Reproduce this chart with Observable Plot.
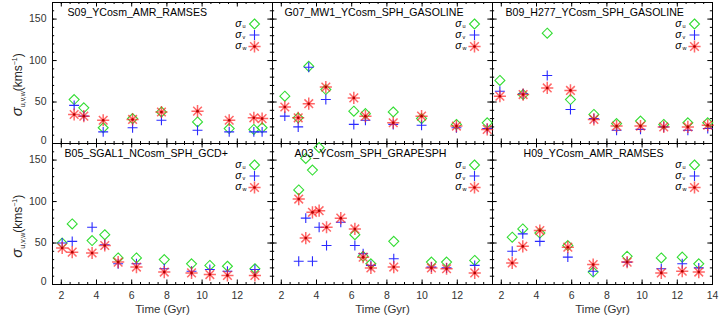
<!DOCTYPE html>
<html><head><meta charset="utf-8">
<script src="https://cdn.jsdelivr.net/npm/d3@7"></script>
<script src="https://cdn.jsdelivr.net/npm/@observablehq/plot@0.6"></script>
<style>
html,body{margin:0;padding:0;background:#fff;}
#chart{width:719px;height:321px;}
</style></head><body><div id="chart"></div>
<script>
// ---- data ----
const panelNames = ["S09_YCosm_AMR_RAMSES","G07_MW1_YCosm_SPH_GASOLINE","B09_H277_YCosm_SPH_GASOLINE",
                    "B05_SGAL1_NCosm_SPH_GCD+","A03_YCosm_SPH_GRAPESPH","H09_YCosm_AMR_RAMSES"];

const s09Time = [2.73, 3.28, 4.38, 6.05, 7.69, 9.74, 11.54, 12.94, 13.41];
const s09U = [53, 43, 19, 30, 38, 26, 18, 17, 19];
const s09V = [46, 33, 14, 19, 28, 16, 14, 14, 14];
const s09W = [35, 33, 28, 29, 38, 39, 28, 31, 30];

const g07Time = [2.20, 2.96, 3.56, 4.53, 6.12, 6.78, 8.36, 9.97, 11.95, 13.7];
const g07U = [57, 31, 93, 65, 39, 36, 38, 30, 23, 25];
const g07V = [33, 20, 92, 53, 23, 28, 23, 22, 19, 18];
const g07W = [44, 31, 48, 68, 55, 33, 25, 33, 21, 17];

const b09Time = [1.92, 3.24, 4.61, 5.93, 7.26, 8.55, 9.91, 11.23, 12.6, 13.73];
const b09U = [76, 59, 133, 53, 35, 24, 27, 23, 25, 25];
const b09V = [63, 60, 82, 41, 30, 16, 17, 20, 16, 18];
const b09W = [57, 59, 67, 64, 29, 21, 21, 20, 20, 22];

const b05Time = [2.05, 2.62, 3.75, 4.47, 5.23, 6.27, 7.85, 9.40, 10.44, 11.44, 13.0];
const b05U = [50, 73, 53, 60, 32, 32, 30, 25, 23, 22, 19];
const b05V = [50, 52, 69, 48, 25, 25, 19, 16, 18, 16, 18];
const b05W = [44, 39, 38, 47, 27, 21, 15, 14, 12, 11, 11];

const a03Time = [2.99, 3.39, 3.77, 4.15, 4.57, 5.38, 6.18, 6.65, 7.09, 8.39, 10.53, 11.39, 12.99];
const a03U = [114, 152, 138, 165, null, null, 60, 34, 25, 52, 27, 27, 29];
const a03V = [28, 80, 28, 69, 47, 75, 47, 37, 23, 31, 21, 20, 23];
const a03W = [103, 56, 87, 89, 69, 80, 67, 33, 20, 21, 20, 19, 14];

const h09Time = [2.62, 3.22, 4.19, 5.78, 7.22, 9.15, 11.09, 12.28, 13.22];
const h09U = [57, 67, 62, 47, 15, 34, 32, 33, 25];
const h09V = [40, 61, 52, 33, 16, 27, 19, 25, 20];
const h09W = [26, 46, 65, 45, 24, 27, 14, 16, 15];

const xTickLabelsInner = [2, 4, 6, 8, 10, 12];
const xTickLabelsLast = [2, 4, 6, 8, 10, 12, 14];
const yTickLabels = [0, 50, 100, 150];
const seriesNames = ["u", "v", "w"];
const xAxisTitle = "Time (Gyr)";

// ---- layout / style ----
const W = 719, H = 321, mL = 51, mR = 7, mT = 1, mB = 37;
const cellW = (W - mL - mR) / 3, cellH = (H - mT - mB) / 2;
const titleDx = [15, 12, 13, 12, 22, 31];
const font = "'Liberation Sans', Arial, Helvetica, sans-serif";
const cU = "#33dd33", cV = "#2a2aff", cW = "#ff2626", cWdot = "#b00000";

const series = [
  {time: s09Time, u: s09U, v: s09V, w: s09W},
  {time: g07Time, u: g07U, v: g07V, w: g07W},
  {time: b09Time, u: b09U, v: b09V, w: b09W},
  {time: b05Time, u: b05U, v: b05V, w: b05W},
  {time: a03Time, u: a03U, v: a03V, w: a03W},
  {time: h09Time, u: h09U, v: h09V, w: h09W}
];
const points = series.flatMap((s, i) => s.time.map((t, j) => ({
  col: i % 3, row: Math.floor(i / 3), t, u: s.u[j], v: s.v[j], w: s.w[j]
})));

const xMajor = [2, 4, 6, 8, 10, 12, 14];
const xMinor = d3.range(1.5, 14.01, 0.5);
const yMajor = [0, 50, 100, 150];
const yMinor = d3.range(0, 171, 10);

function ticksX(values, len) {
  return [
    Plot.ruleX(values, {x: d => d, insetTop: cellH - len, stroke: "black", strokeWidth: 1}),
    Plot.ruleX(values, {x: d => d, insetBottom: cellH - len, stroke: "black", strokeWidth: 1})
  ];
}
function ticksY(values, len) {
  return [
    Plot.ruleY(values, {y: d => d, insetRight: cellW - len, stroke: "black", strokeWidth: 1}),
    Plot.ruleY(values, {y: d => d, insetLeft: cellW - len, stroke: "black", strokeWidth: 1})
  ];
}

const legendRows = [21.5, 32.5, 44];
const legendMarks = [];
seriesNames.forEach((s, k) => {
  const dy = legendRows[k];
  legendMarks.push(Plot.text(["σ"], {frameAnchor: "top-right", dx: -31, dy: dy - 0.5, textAnchor: "end", lineAnchor: "middle", fontSize: 10.5, fontStyle: "italic", fill: "black"}));
  legendMarks.push(Plot.text([s], {frameAnchor: "top-right", dx: -30, dy: dy + 2, textAnchor: "start", lineAnchor: "middle", fontSize: 5.5, fill: "black"}));
});
legendMarks.push(Plot.dot([0], {frameAnchor: "top-right", dx: -18, dy: legendRows[0], symbol: "diamond2", r: 4.5, stroke: cU, strokeWidth: 1.1}));
legendMarks.push(Plot.dot([0], {frameAnchor: "top-right", dx: -18, dy: legendRows[1], symbol: "plus", r: 3.3, stroke: cV, strokeWidth: 1.1}));
legendMarks.push(Plot.dot([0], {frameAnchor: "top-right", dx: -18, dy: legendRows[2], symbol: "plus", r: 4, stroke: cW, strokeOpacity: 0.7}));
legendMarks.push(Plot.dot([0], {frameAnchor: "top-right", dx: -18, dy: legendRows[2], symbol: "times", r: 4, stroke: cW, strokeOpacity: 0.7}));
legendMarks.push(Plot.dot([0], {frameAnchor: "top-right", dx: -18, dy: legendRows[2], r: 1.3, fill: cWdot, stroke: null}));

const titleMarks = panelNames.map((name, i) => Plot.text([name], {
  fx: () => i % 3, fy: () => Math.floor(i / 3), text: d => d,
  frameAnchor: "top-left", dx: titleDx[i], dy: 10, textAnchor: "start", lineAnchor: "middle",
  fontSize: 10.6, fill: "black"
}));

const yLabelData = yTickLabels.flatMap(v => [0, 1].map(row => ({row, v})));
const xLabelData = [0, 1, 2].flatMap(col => (col === 2 ? xTickLabelsLast : xTickLabelsInner).map(x => ({col, x})));

const chart = Plot.plot({
  width: W, height: H,
  marginLeft: mL, marginRight: mR, marginTop: mT, marginBottom: mB,
  fx: {domain: [0, 1, 2], padding: 0, axis: null, label: null},
  fy: {domain: [0, 1], padding: 0, axis: null, label: null},
  x: {domain: [1.5, 14], axis: null},
  y: {domain: [0, 170], axis: null},
  style: {fontFamily: font, background: "white", overflow: "visible"},
  marks: [
    ...ticksX(xMinor, 2.5), ...ticksX(xMajor, 5),
    ...ticksY(yMinor, 2.5), ...ticksY(yMajor, 5),
    Plot.frame({stroke: "black", strokeWidth: 1}),
    Plot.dot(points, {fx: "col", fy: "row", x: "t", y: "u", symbol: "diamond2", r: 4.5, stroke: cU, strokeWidth: 1.1}),
    Plot.dot(points, {fx: "col", fy: "row", x: "t", y: "v", symbol: "plus", r: 3.3, stroke: cV, strokeWidth: 1.1}),
    Plot.dot(points, {fx: "col", fy: "row", x: "t", y: "w", symbol: "plus", r: 4, stroke: cW, strokeOpacity: 0.7}),
    Plot.dot(points, {fx: "col", fy: "row", x: "t", y: "w", symbol: "times", r: 4, stroke: cW, strokeOpacity: 0.7}),
    Plot.dot(points, {fx: "col", fy: "row", x: "t", y: "w", r: 1.3, fill: cWdot, stroke: null}),
    ...legendMarks,
    ...titleMarks,
    Plot.text(yLabelData.filter(d => d.v !== 0), {fx: () => 0, fy: "row", y: "v", text: d => String(d.v), frameAnchor: "left", textAnchor: "end", lineAnchor: "middle", dx: -6, fontSize: 10.5, fill: "#333"}),
    Plot.text(yLabelData.filter(d => d.v === 0), {fx: () => 0, fy: "row", y: "v", text: d => String(d.v), frameAnchor: "left", textAnchor: "end", lineAnchor: "middle", dx: -6, dy: -3, fontSize: 10.5, fill: "#333"}),
    Plot.text(xLabelData, {fx: "col", fy: () => 1, x: "x", text: d => String(d.x), frameAnchor: "bottom", lineAnchor: "middle", dy: 11, fontSize: 10.5, fill: "#333"}),
    Plot.text([0, 1, 2], {fx: d => d, fy: () => 1, text: () => xAxisTitle, frameAnchor: "bottom", lineAnchor: "middle", dy: 25, fontSize: 11.5, fill: "#333"})
  ]
});

// rotated y-axis titles with sub/superscripts
const svg = d3.select(chart);
[0, 1].forEach(row => {
  const cy = mT + cellH * row + cellH / 2 + 13;
  const t = svg.append("text")
    .attr("transform", `translate(22,${cy}) rotate(-90)`)
    .attr("text-anchor", "middle")
    .attr("font-family", font)
    .attr("fill", "#222");
  t.append("tspan").attr("font-size", 15).attr("font-style", "italic").text("σ");
  t.append("tspan").attr("font-size", 7).attr("dy", 3).text("u,v,w");
  t.append("tspan").attr("font-size", 12).attr("dy", -3).text("(kms");
  t.append("tspan").attr("font-size", 7).attr("dy", -5).text("−1");
  t.append("tspan").attr("font-size", 12).attr("dy", 5).text(")");
});

document.getElementById("chart").appendChild(chart);
</script>
</body></html>
